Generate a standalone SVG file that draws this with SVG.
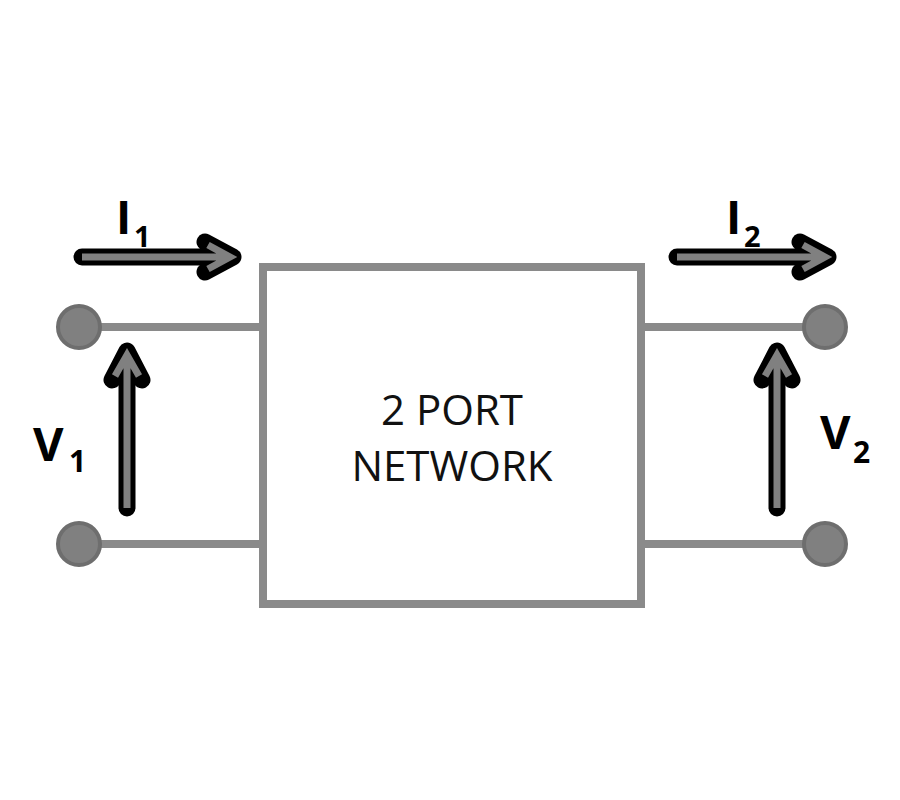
<svg xmlns="http://www.w3.org/2000/svg" width="900" height="800" viewBox="0 0 900 800">
<style>
.wire{stroke:#8a8a8a;stroke-width:8;fill:none}
.term{fill:#808080;stroke:#6e6e6e;stroke-width:4}
.aout{stroke:#000;stroke-width:17;fill:none;stroke-linecap:round;stroke-linejoin:round}
.ain{stroke:#808080;stroke-width:7;fill:none;stroke-linecap:butt;stroke-linejoin:miter}
.lbl{font-family:"Open Sans","Liberation Sans",sans-serif;font-weight:bold;fill:#000}
.box{font-family:"Open Sans","Liberation Sans",sans-serif;font-size:42px;fill:#111}
</style>
<rect width="900" height="800" fill="#fff"/>
<g id="connectors">
<line class="wire" x1="100" y1="327" x2="263" y2="327"/>
<line class="wire" x1="100" y1="544" x2="263" y2="544"/>
<line class="wire" x1="641" y1="327" x2="805" y2="327"/>
<line class="wire" x1="641" y1="544" x2="805" y2="544"/>
</g>
<g id="network">
<rect x="263" y="267" width="378" height="337" fill="#fff" stroke="#8a8a8a" stroke-width="8"/>
<text class="box" x="452" y="425" text-anchor="middle">2 PORT</text>
<text class="box" x="452" y="481" text-anchor="middle">NETWORK</text>
</g>
<g id="t1"><circle class="term" cx="79" cy="327" r="21"/></g>
<g id="t2"><circle class="term" cx="79" cy="544" r="21"/></g>
<g id="t3"><circle class="term" cx="825" cy="327" r="21"/></g>
<g id="t4"><circle class="term" cx="825" cy="544" r="21"/></g>
<g id="I1">
<path class="aout" d="M82 257 H230 M205 242 L233 257 L205 272"/>
<path class="ain" d="M82 257 H230 M208 245 L230 257 L208 269"/>
<text class="lbl" x="116" y="234" font-size="46">I</text>
<text class="lbl" x="134" y="247" font-size="29">1</text>
</g>
<g id="I2">
<path class="aout" d="M677 257 H825 M800 242 L828 257 L800 272"/>
<path class="ain" d="M677 257 H825 M803 245 L825 257 L803 269"/>
<text class="lbl" x="726" y="234" font-size="46">I</text>
<text class="lbl" x="744" y="247" font-size="29">2</text>
</g>
<g id="V1">
<path class="aout" d="M127 508 V352 M112 380 L127 351 L142 380"/>
<path class="ain" d="M127 508 V354 M115 376 L127 355 L139 376"/>
<text class="lbl" x="33" y="461" font-size="47">V</text>
<text class="lbl" x="69" y="472" font-size="30">1</text>
</g>
<g id="V2">
<path class="aout" d="M777 508 V352 M762 380 L777 351 L792 380"/>
<path class="ain" d="M777 508 V354 M765 376 L777 355 L789 376"/>
<text class="lbl" x="820" y="449" font-size="47">V</text>
<text class="lbl" x="853" y="463" font-size="30">2</text>
</g>
</svg>
